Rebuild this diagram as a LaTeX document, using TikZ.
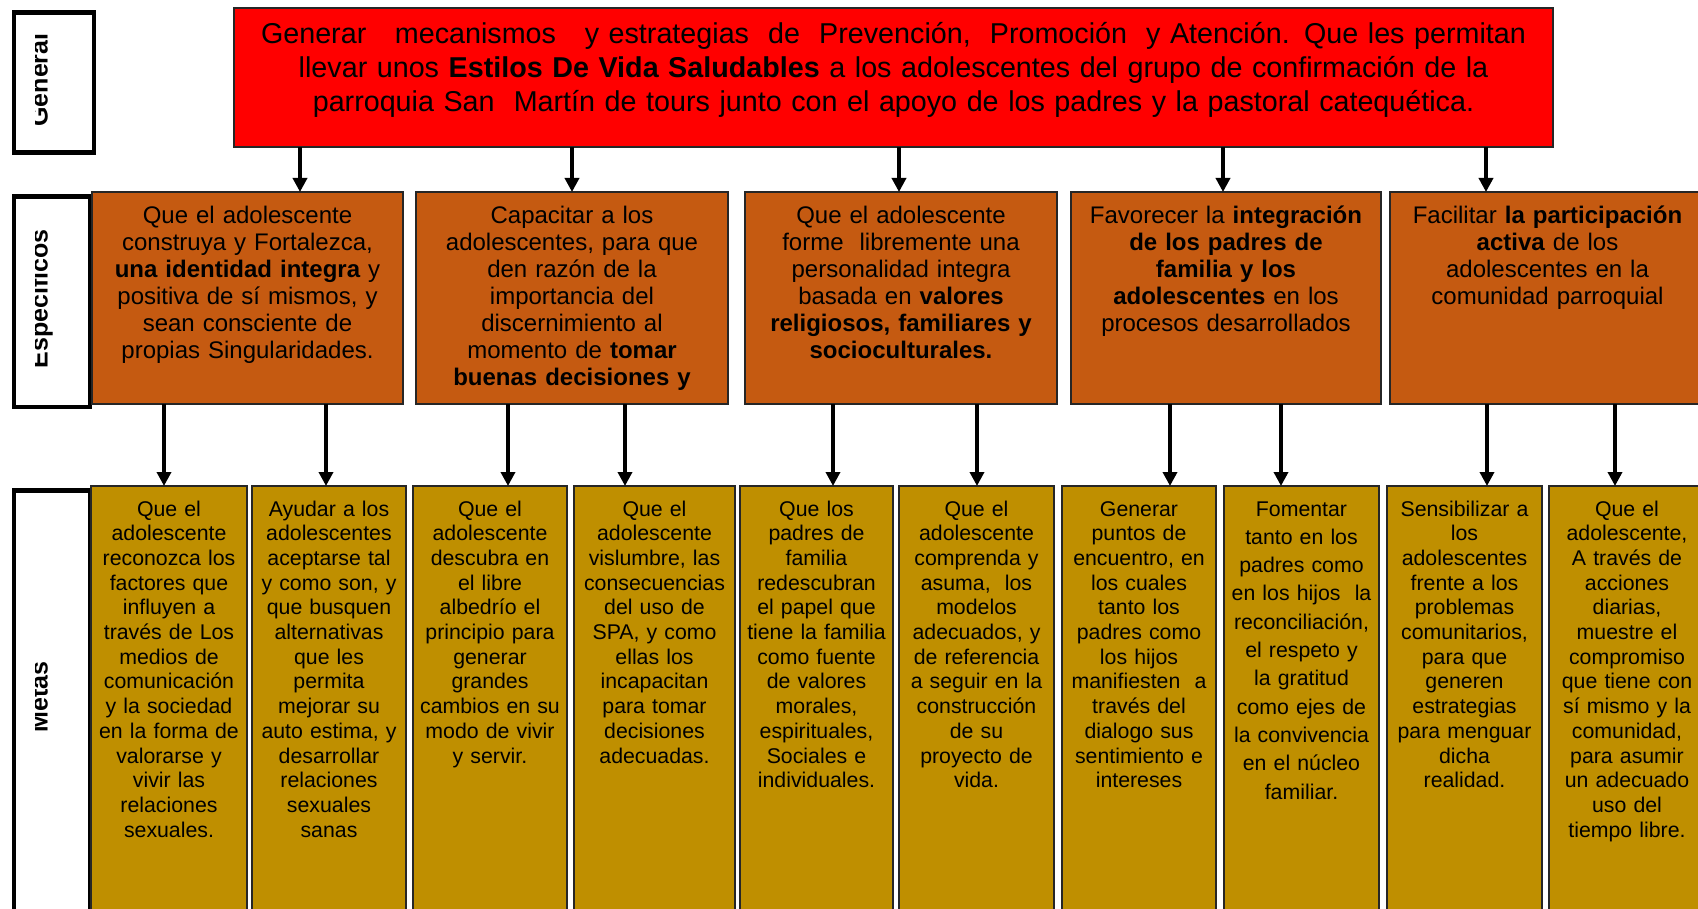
\documentclass[tikz,border=0pt]{standalone}
\usepackage{fontspec}
\setmainfont{Liberation Sans}
\usetikzlibrary{arrows.meta,calc,positioning}
\definecolor{genR}{RGB}{255,0,0}
\definecolor{espO}{RGB}{197,90,17}
\definecolor{metY}{RGB}{191,143,0}
\newcommand\genfont{\fontsize{28.7}{34}\selectfont}
\newcommand\espfont{\fontsize{24}{27}\selectfont}
\newcommand\metfont{\fontsize{21.3}{24.7}\selectfont}

\begin{document}
\begin{tikzpicture}[x=1pt,y=-1pt,
  box/.style={draw=black!85,line width=1.3pt,anchor=north west,inner sep=0pt,outer sep=0pt},
  tagbox/.style={draw=black,line width=4.5pt,fill=white,anchor=north west,inner sep=0pt},
  txt/.style={anchor=base,align=center,inner sep=0pt},
  tagtxt/.style={rotate=90,anchor=base,inner sep=0pt,font=\bfseries\fontsize{25}{25}\selectfont},
  arr/.style={line width=4pt,-{Triangle[width=14pt,length=14pt]}}]
\useasboundingbox (0,0) rectangle (1698,909);

% etiquetas laterales
\node[tagbox,minimum width=80,minimum height=140] (tagG) at (11.5,10.5) {};
\node[tagbox,minimum width=76,minimum height=210] (tagE) at (11.5,194.5) {};
\node[tagbox,minimum width=76,minimum height=450] (tagM) at (11.5,488) {};
\begin{scope}
  \clip (35,0) rectangle (80,909);
  \node[tagtxt] (tagGt) at (47.5,80) {General};
  \node[tagtxt] (tagEt) at (47.5,299) {Específicos};
  \node[tagtxt] (tagMt) at (47.5,697) {Metas};
\end{scope}

% objetivo general
\node[box,fill=genR,minimum width=1319,minimum height=139] (gen) at (234,8) {};
\node[txt,text width=1330,font=\genfont] (gent) at ($(gen.north)+(0,36)$)
  {Generar\ \ \ mecanismos\ \ \ y estrategias\ \ de\ \ Prevención,\ \ Promoción\ \ y Atención. Que les permitan\\
   llevar unos \textbf{Estilos De Vida Saludables} a los adolescentes del grupo de confirmación de la\\
   parroquia San\ \ Martín de tours junto con el apoyo de los padres y la pastoral catequética.};

% objetivos especificos
\foreach \i/\xl/\w in {1/92/311,2/416/312,3/745/312,4/1071/310,5/1390/315}
  \node[box,fill=espO,minimum width=\w,minimum height=212] (s\i) at (\xl,192) {};
\node[txt,text width=320,font=\espfont] (s1t) at ($(s1.north)+(0,32)$)
  {Que el adolescente\\construya y Fortalezca,\\\textbf{una identidad integra} y\\positiva de sí mismos, y\\sean consciente de\\propias Singularidades.};
\node[txt,text width=320,font=\espfont] (s2t) at ($(s2.north)+(0,32)$)
  {Capacitar a los\\adolescentes, para que\\den razón de la\\importancia del\\discernimiento al\\momento de \textbf{tomar}\\\textbf{buenas decisiones y}};
\node[txt,text width=320,font=\espfont] (s3t) at ($(s3.north)+(0,32)$)
  {Que el adolescente\\forme\ \ libremente una\\personalidad integra\\basada en \textbf{valores}\\\textbf{religiosos, familiares y}\\\textbf{socioculturales.}};
\node[txt,text width=320,font=\espfont] (s4t) at ($(s4.north)+(0,32)$)
  {Favorecer la \textbf{integración}\\\textbf{de los padres de}\\\textbf{familia y los}\\\textbf{adolescentes} en los\\procesos desarrollados};
\node[txt,text width=320,font=\espfont] (s5t) at ($(s5.north)+(0,32)$)
  {Facilitar \textbf{la participación}\\\textbf{activa} de los\\adolescentes en la\\comunidad parroquial};

% metas
\foreach \i/\xl/\w in {1/91/156,2/252/154,3/413/154,4/574/161,5/740/153,6/899/155,7/1062/154,8/1224/155,9/1387/155,10/1549/156}
  \node[box,fill=metY,minimum width=\w,minimum height=444] (m\i) at (\xl,486) {};
\node[txt,text width=165,font=\metfont] (m1t) at ($(m1.north)+(0,30)$)
  {Que el\\adolescente\\reconozca los\\factores que\\influyen a\\través de Los\\medios de\\comunicación\\y la sociedad\\en la forma de\\valorarse y\\vivir las\\relaciones\\sexuales.};
\node[txt,text width=165,font=\metfont] (m2t) at ($(m2.north)+(0,30)$)
  {Ayudar a los\\adolescentes\\aceptarse tal\\y como son, y\\que busquen\\alternativas\\que les\\permita\\mejorar su\\auto estima, y\\desarrollar\\relaciones\\sexuales\\sanas};
\node[txt,text width=165,font=\metfont] (m3t) at ($(m3.north)+(0,30)$)
  {Que el\\adolescente\\descubra en\\el libre\\albedrío el\\principio para\\generar\\grandes\\cambios en su\\modo de vivir\\y servir.};
\node[txt,text width=165,font=\metfont] (m4t) at ($(m4.north)+(0,30)$)
  {Que el\\adolescente\\vislumbre, las\\consecuencias\\del uso de\\SPA, y como\\ellas los\\incapacitan\\para tomar\\decisiones\\adecuadas.};
\node[txt,text width=165,font=\metfont] (m5t) at ($(m5.north)+(0,30)$)
  {Que los\\padres de\\familia\\redescubran\\el papel que\\tiene la familia\\como fuente\\de valores\\morales,\\espirituales,\\Sociales e\\individuales.};
\node[txt,text width=165,font=\metfont] (m6t) at ($(m6.north)+(0,30)$)
  {Que el\\adolescente\\comprenda y\\asuma,\ \ los\\modelos\\adecuados, y\\de referencia\\a seguir en la\\construcción\\de su\\proyecto de\\vida.};
\node[txt,text width=165,font=\metfont] (m7t) at ($(m7.north)+(0,30)$)
  {Generar\\puntos de\\encuentro, en\\los cuales\\tanto los\\padres como\\los hijos\\manifiesten\ \ a\\través del\\dialogo sus\\sentimiento e\\intereses};
\node[txt,text width=165,font=\fontsize{21.3}{28.3}\selectfont] (m8t) at ($(m8.north)+(0,30)$)
  {Fomentar\\tanto en los\\padres como\\en los hijos\ \ la\\reconciliación,\\el respeto y\\la gratitud\\como ejes de\\la convivencia\\en el núcleo\\familiar.};
\node[txt,text width=165,font=\metfont] (m9t) at ($(m9.north)+(0,30)$)
  {Sensibilizar a\\los\\adolescentes\\frente a los\\problemas\\comunitarios,\\para que\\generen\\estrategias\\para menguar\\dicha\\realidad.};
\node[txt,text width=165,font=\metfont] (m10t) at ($(m10.north)+(0,30)$)
  {Que el\\adolescente,\\A través de\\acciones\\diarias,\\muestre el\\compromiso\\que tiene con\\sí mismo y la\\comunidad,\\para asumir\\un adecuado\\uso del\\tiempo libre.};

% flechas
\foreach \s/\x in {1/300,2/572,3/899,4/1223,5/1486}
  \draw[arr] (gen.south -| \x,0) -- (s\s.north -| \x,0);
\foreach \s/\m/\x in {1/1/164,1/2/326,2/3/508,2/4/625,3/5/833,3/6/977,4/7/1170,4/8/1281,5/9/1487,5/10/1615}
  \draw[arr] (s\s.south -| \x,0) -- (m\m.north -| \x,0);
\end{tikzpicture}
\end{document}
